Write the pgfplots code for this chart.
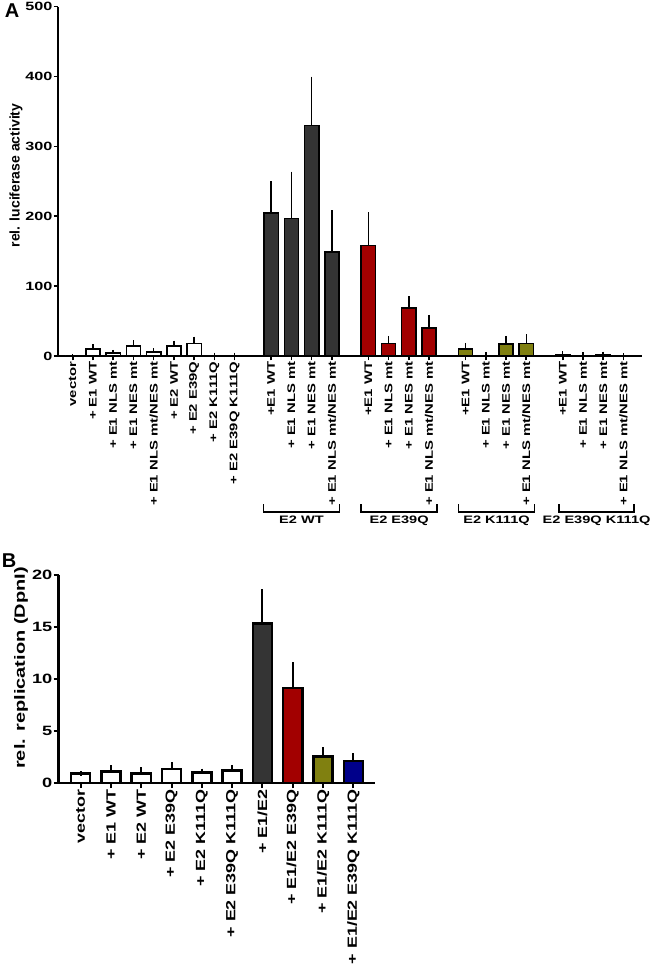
\documentclass[border=0pt]{standalone}
\usepackage{fontspec}
\setmainfont{Liberation Sans}
\newfontfamily\wf{Liberation Sans}[FakeStretch=1.35]
\usepackage{pgfplots}
\pgfplotsset{compat=1.18}
\usepackage{pgfplotstable}

\definecolor{cdark}{RGB}{52,52,52}
\definecolor{cred}{RGB}{162,0,0}
\definecolor{colive}{RGB}{128,128,16}
\definecolor{cblue}{RGB}{0,0,138}

% Panel A
\pgfplotstableread{
x y e
0 0 0
1 10 4
2 4 2
3 14 6
4 6 2.5
5 14 5
6 18 7
7 0.5 1.5
8 0.5 1.5
}\Awhite
\pgfplotstableread{
x y e
9.8 205 42
10.8 197 64
11.8 330 67
12.8 149 57
}\Awt
\pgfplotstableread{
x y e
14.6 158 45
15.6 18 8
16.6 69 14
17.6 40 16
}\Aeq
\pgfplotstableread{
x y e
19.4 10 6
20.4 1 2
21.4 17 9
22.4 18 10
}\Akq
\pgfplotstableread{
x y e
24.2 2 2
25.2 1 1.5
26.2 1.5 2
27.2 0.3 1
}\Aeqkq

% Panel B
\pgfplotstableread{
x y e
0 0.9 0
1 1.1 0.35
2 0.92 0.35
3 1.35 0.4
4 1.0 0.15
5 1.2 0.3
}\Bwhite
\pgfplotstableread{
x y e
6 15.35 3.05
}\Bdark
\pgfplotstableread{
x y e
7 9.15 2.2
}\Bred
\pgfplotstableread{
x y e
8 2.55 0.65
}\Bolive
\pgfplotstableread{
x y e
9 2.1 0.5
}\Bblue

\begin{document}
\begin{tikzpicture}
\path[use as bounding box] (0pt,0pt) rectangle (650pt,966pt);

\begin{axis}[
  at={(58pt,610pt)}, anchor=south west, scale only axis,
  width=583.7pt, height=349.3pt,
  xmin=-0.726, xmax=28.1, ymin=0, ymax=500,
  axis lines=left, axis line style={-, line width=1.9pt},
  tick align=outside, major tick length=4.5pt,
  tick style={black, line width=1.6pt},
  ytick={0,100,200,300,400,500},
  xtick={0,1,2,3,4,5,6,7,8,9.8,10.8,11.8,12.8,14.6,15.6,16.6,17.6,19.4,20.4,21.4,22.4,24.2,25.2,26.2,27.2},
  xticklabels={vector,+ E1 WT,+ E1 NLS mt,+ E1 NES mt,+ E1 NLS mt/NES mt,+ E2 WT,+ E2 E39Q,+ E2 K111Q,+ E2 E39Q K111Q,
    +E1 WT,+ E1 NLS mt,+ E1 NES mt,+ E1 NLS mt/NES mt,
    +E1 WT,+ E1 NLS mt,+ E1 NES mt,+ E1 NLS mt/NES mt,
    +E1 WT,+ E1 NLS mt,+ E1 NES mt,+ E1 NLS mt/NES mt,
    +E1 WT,+ E1 NLS mt,+ E1 NES mt,+ E1 NLS mt/NES mt},
  xticklabel style={font=\wf\bfseries\fontsize{11}{11}\selectfont, rotate=90, anchor=east, inner sep=1pt},
  yticklabel style={font=\wf\bfseries\fontsize{12}{12}\selectfont, inner sep=1pt},
  /pgf/number format/assume math mode=true,
  clip=false,
  error bars/y dir=plus, error bars/y explicit,
  error bars/error bar style={line width=1.5pt, black},
  error bars/error mark options={black, line width=1.5pt, mark size=2pt},
]
\addplot[ybar, bar width=0.705, bar shift=0pt, fill=white, draw=black, line width=1.5pt] table[x=x,y=y,y error=e]{\Awhite};
\addplot[ybar, bar width=0.705, bar shift=0pt, fill=cdark, draw=black, line width=1.5pt] table[x=x,y=y,y error=e]{\Awt};
\addplot[ybar, bar width=0.705, bar shift=0pt, fill=cred, draw=black, line width=1.5pt] table[x=x,y=y,y error=e]{\Aeq};
\addplot[ybar, bar width=0.705, bar shift=0pt, fill=colive, draw=black, line width=1.5pt] table[x=x,y=y,y error=e]{\Akq};
\addplot[ybar, bar width=0.705, bar shift=0pt, fill=cblue, draw=black, line width=1.5pt] table[x=x,y=y,y error=e]{\Aeqkq};

\draw[line width=1.6pt] (axis cs:9.42,-211.9) -- (axis cs:9.42,-222.9) -- (axis cs:13.17,-222.9) -- (axis cs:13.17,-211.9);
\draw[line width=1.6pt] (axis cs:14.24,-211.9) -- (axis cs:14.24,-222.9) -- (axis cs:18.0,-222.9) -- (axis cs:18.0,-211.9);
\draw[line width=1.6pt] (axis cs:19.06,-211.9) -- (axis cs:19.06,-222.9) -- (axis cs:22.8,-222.9) -- (axis cs:22.8,-211.9);
\draw[line width=1.6pt] (axis cs:24.03,-211.9) -- (axis cs:24.03,-222.9) -- (axis cs:27.72,-222.9) -- (axis cs:27.72,-211.9);
\node[anchor=north, inner sep=0pt, font=\wf\bfseries\fontsize{10.8}{10.8}\selectfont] at (axis cs:11.3,-229) {E2 WT};
\node[anchor=north, inner sep=0pt, font=\wf\bfseries\fontsize{10.8}{10.8}\selectfont] at (axis cs:16.12,-229) {E2 E39Q};
\node[anchor=north, inner sep=0pt, font=\wf\bfseries\fontsize{10.8}{10.8}\selectfont] at (axis cs:20.93,-229) {E2 K111Q};
\node[anchor=north, inner sep=0pt, font=\wf\bfseries\fontsize{10.8}{10.8}\selectfont] at (axis cs:25.87,-229) {E2 E39Q K111Q};
\end{axis}

\node[font=\bfseries\fontsize{20}{20}\selectfont] at (12pt,955pt) {A};
\node[rotate=90, font=\bfseries\fontsize{14}{14}\selectfont] at (16pt,790.5pt) {rel. luciferase activity};

\begin{axis}[
  at={(58.5pt,183pt)}, anchor=south west, scale only axis,
  width=316.5pt, height=208pt,
  xmin=-0.733, xmax=9.716, ymin=0, ymax=20,
  axis lines=left, axis line style={-, line width=2.6pt},
  tick align=outside, major tick length=5pt,
  tick style={black, line width=2pt},
  ytick={0,5,10,15,20},
  xtick={0,1,2,3,4,5,6,7,8,9},
  xticklabels={vector,+ E1 WT,+ E2 WT,+ E2 E39Q,+ E2 K111Q,+ E2 E39Q K111Q,+ E1/E2,+ E1/E2 E39Q,+ E1/E2 K111Q,+ E1/E2 E39Q K111Q},
  xticklabel style={font=\wf\bfseries\fontsize{13.3}{13.3}\selectfont, rotate=90, anchor=east, inner sep=1pt},
  yticklabel style={font=\wf\bfseries\fontsize{13.5}{13.5}\selectfont, inner sep=1pt},
  /pgf/number format/assume math mode=true,
  clip=false,
  error bars/y dir=plus, error bars/y explicit,
  error bars/error bar style={line width=1.9pt, black},
  error bars/error mark options={black, line width=1.9pt, mark size=2.5pt},
]
\addplot[ybar, bar width=0.63, bar shift=0pt, fill=white, draw=black, line width=2.5pt] table[x=x,y=y,y error=e]{\Bwhite};
\addplot[ybar, bar width=0.63, bar shift=0pt, fill=cdark, draw=black, line width=2.5pt] table[x=x,y=y,y error=e]{\Bdark};
\addplot[ybar, bar width=0.63, bar shift=0pt, fill=cred, draw=black, line width=2.5pt] table[x=x,y=y,y error=e]{\Bred};
\addplot[ybar, bar width=0.63, bar shift=0pt, fill=colive, draw=black, line width=2.5pt] table[x=x,y=y,y error=e]{\Bolive};
\addplot[ybar, bar width=0.63, bar shift=0pt, fill=cblue, draw=black, line width=2.5pt] table[x=x,y=y,y error=e]{\Bblue};
\end{axis}

\node[font=\bfseries\fontsize{20}{20}\selectfont] at (9pt,405pt) {B};
\node[rotate=90, font=\wf\bfseries\fontsize{14.8}{14.8}\selectfont] at (21pt,298pt) {rel. replication (DpnI)};

\end{tikzpicture}
\end{document}
